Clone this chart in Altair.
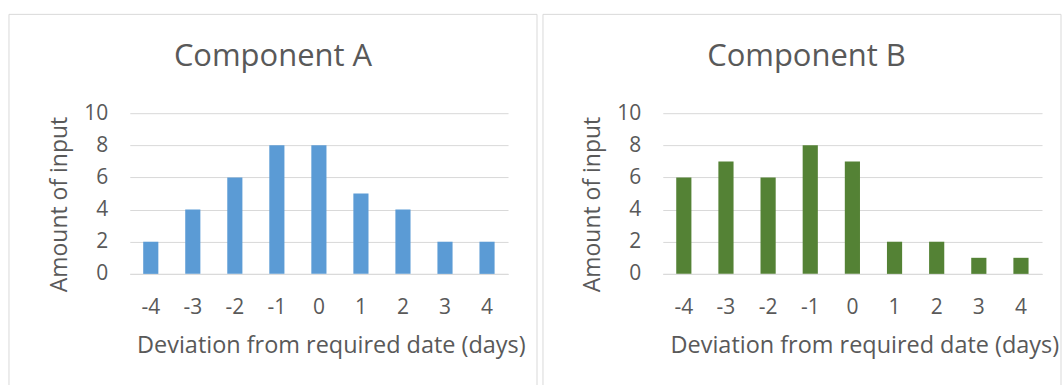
import altair as alt
import pandas as pd

days = ["-4", "-3", "-2", "-1", "0", "1", "2", "3", "4"]
amount_a = [2, 4, 6, 8, 8, 5, 4, 2, 2]
amount_b = [6, 7, 6, 8, 7, 2, 2, 1, 1]
titles = ["Component A", "Component B"]
colors = ["#5B9BD5", "#548235"]
y_ticks = [0, 2, 4, 6, 8, 10]

FONT = "Open Sans"
TXT = "#595959"
GRID = "#D9D9D9"


def panel(title, values, color, width, fx1, fx2):
    df = pd.DataFrame({"day": days, "amount": values})
    bars = alt.Chart(df).mark_bar(color=color).encode(
        x=alt.X(
            "day:O",
            sort=days,
            title="Deviation from required date (days)",
            scale=alt.Scale(paddingInner=0.64, paddingOuter=0.32),
            axis=alt.Axis(
                labelAngle=0, ticks=False, domainColor=GRID, labelPadding=23,
                labelFontSize=21, titleFontSize=23.5, titlePadding=16,
                titleX=width / 2 + 12, titleFontWeight="normal",
            ),
        ),
        y=alt.Y(
            "amount:Q",
            title="Amount of input",
            scale=alt.Scale(domain=[0, 10]),
            axis=alt.Axis(
                values=y_ticks, ticks=False, domain=False, gridColor=GRID,
                labelPadding=22, labelFontSize=21, titleFontSize=23,
                titlePadding=12, titleFontWeight="normal", titleY=91,
            ),
        ),
    )
    frame = alt.Chart(alt.Data(values=[{}])).mark_rect(
        fillOpacity=0, stroke=GRID, strokeWidth=1
    ).encode(
        x=alt.value(fx1), x2=alt.value(fx2), y=alt.value(-99), y2=alt.value(300)
    )
    return alt.layer(frame, bars).properties(
        width=width,
        height=161,
        title=alt.TitleParams(
            title, fontSize=31, font=FONT, color=TXT, fontWeight="normal",
            anchor="middle", frame="group", dx=-46, offset=-59,
        ),
    )


left = panel(titles[0], amount_a, colors[0], 379, -121, 408)
right = panel(titles[1], amount_b, colors[1], 380, -120, 399)

chart = alt.hconcat(left, right, spacing=4).properties(
    padding={"left": 8, "top": 13, "right": 0, "bottom": 0}
).configure_view(stroke=None).configure_axis(
    labelFont=FONT, titleFont=FONT, labelColor=TXT, titleColor=TXT
)

chart.save("out.html", embed_options={"renderer": "svg", "actions": False})
